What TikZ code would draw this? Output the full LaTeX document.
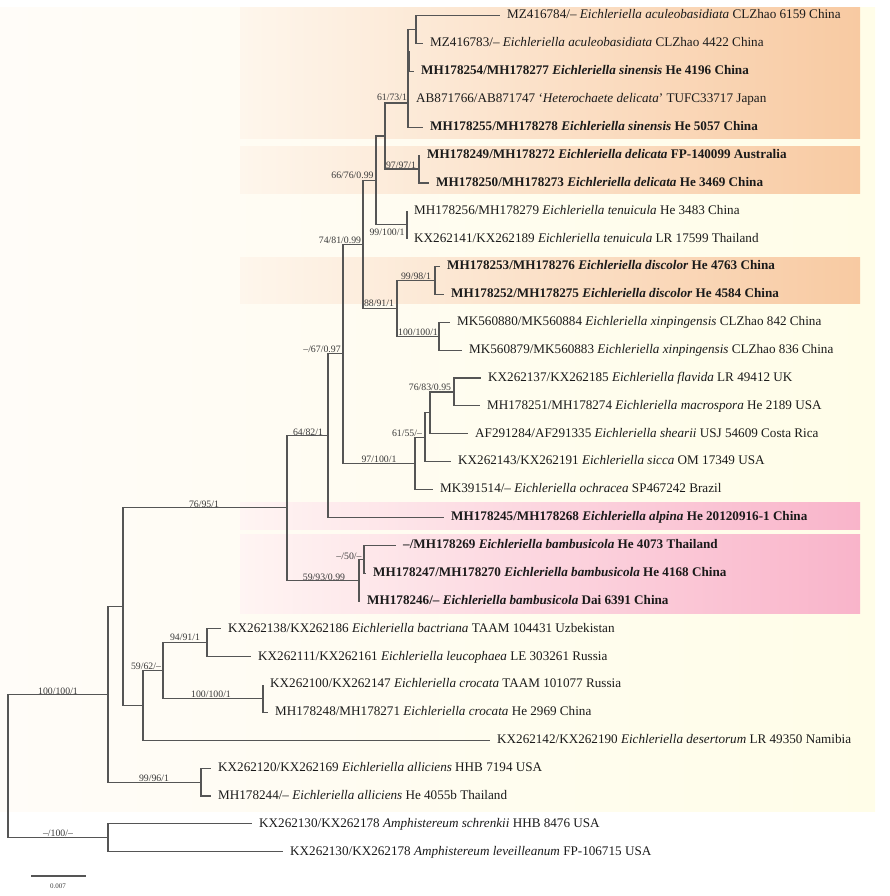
\documentclass[tikz,border=0pt]{standalone}
\usepackage{fontspec}
\setmainfont{Liberation Serif}
\definecolor{creamL}{HTML}{FFFCF8}
\definecolor{creamR}{HTML}{FFFDE8}
\definecolor{orL}{HTML}{FEF6EC}
\definecolor{orR}{HTML}{F8CAA2}
\definecolor{pkL}{HTML}{FFF5F3}
\definecolor{pkR}{HTML}{F9B4CA}
\definecolor{brc}{HTML}{555555}
\definecolor{txc}{HTML}{1A1A1A}
\definecolor{lbc}{HTML}{3A3A3A}
\begin{document}
\begin{tikzpicture}[x=1pt,y=-1pt,
  br/.style={draw=brc, line width=1.1pt},
  tx/.style={anchor=west, inner xsep=7pt, inner ysep=0pt, text=txc,
     font=\fontsize{13.15}{15}\selectfont, text height=0.66em, text depth=0pt},
  txb/.style={tx, font=\fontsize{13.15}{15}\selectfont\bfseries},
  supl/.style={inner sep=0pt, text=lbc, font=\fontsize{9.8}{10}\selectfont,
     text height=0.68em, text depth=0pt}]
\useasboundingbox (0,0) rectangle (890,896);
% backgrounds
\fill[left color=creamL, right color=creamR] (0,8) rectangle (875,811);
\fill[left color=orL, right color=orR] (240,8) rectangle (860,139);
\fill[left color=orL, right color=orR] (240,147) rectangle (860,193);
\fill[left color=orL, right color=orR] (240,257) rectangle (860,303);
\fill[left color=pkL, right color=pkR] (240,502) rectangle (860,529);
\fill[left color=pkL, right color=pkR] (240,534) rectangle (860,613);
% internal nodes
\coordinate (root) at (8,766);
\coordinate (A) at (108,694.4);
\coordinate (O2) at (108,837.9);
\coordinate (B) at (123,606.7);
\coordinate (AL) at (201,782.1);
\coordinate (C) at (287,507.9);
\coordinate (D) at (143,705.5);
\coordinate (H) at (328,435.6);
\coordinate (S) at (359,580.1);
\coordinate (I) at (343,353.9);
\coordinate (J) at (363,244.4);
\coordinate (O) at (415,463.4);
\coordinate (L) at (376,180.4);
\coordinate (K) at (397,308.4);
\coordinate (MN) at (385,136);
\coordinate (TN) at (407,224.8);
\coordinate (M) at (408,103);
\coordinate (M2) at (416,29.7);
\coordinate (M3) at (409.5,52);
\coordinate (N) at (419,169);
\coordinate (DS) at (435,280.5);
\coordinate (X) at (439,336.2);
\coordinate (P) at (425,437.2);
\coordinate (Q) at (430,412.8);
\coordinate (R) at (454,392);
\coordinate (T) at (364,559.2);
\coordinate (E) at (163,670.6);
\coordinate (F) at (207,642.8);
\coordinate (G) at (263,698.5);
% taxa
\node[tx]  (t1)  at (500,15.7)  {MZ416784/-- \textit{Eichleriella aculeobasidiata} CLZhao 6159 China};
\node[tx]  (t2)  at (423,43.6)  {MZ416783/-- \textit{Eichleriella aculeobasidiata} CLZhao 4422 China};
\node[txb] (t3)  at (414,71.4)  {MH178254/MH178277 \textit{Eichleriella sinensis} He 4196 China};
\node[tx]  (t4)  at (409,99.3)  {AB871766/AB871747 ‘\textit{Heterochaete delicata}’ TUFC33717 Japan};
\node[txb] (t5)  at (423,127.2) {MH178255/MH178278 \textit{Eichleriella sinensis} He 5057 China};
\node[txb] (t6)  at (420,155.1) {MH178249/MH178272 \textit{Eichleriella delicata} FP-140099 Australia};
\node[txb] (t7)  at (429,183.0) {MH178250/MH178273 \textit{Eichleriella delicata} He 3469 China};
\node[tx]  (t8)  at (407,210.8) {MH178256/MH178279 \textit{Eichleriella tenuicula} He 3483 China};
\node[tx]  (t9)  at (407,238.7) {KX262141/KX262189 \textit{Eichleriella tenuicula} LR 17599 Thailand};
\node[txb] (t10) at (440,266.5) {MH178253/MH178276 \textit{Eichleriella discolor} He 4763 China};
\node[txb] (t11) at (444,294.4) {MH178252/MH178275 \textit{Eichleriella discolor} He 4584 China};
\node[tx]  (t12) at (450,322.3) {MK560880/MK560884 \textit{Eichleriella xinpingensis} CLZhao 842 China};
\node[tx]  (t13) at (462,350.1) {MK560879/MK560883 \textit{Eichleriella xinpingensis} CLZhao 836 China};
\node[tx]  (t14) at (481,378.0) {KX262137/KX262185 \textit{Eichleriella flavida} LR 49412 UK};
\node[tx]  (t15) at (480,405.9) {MH178251/MH178274 \textit{Eichleriella macrospora} He 2189 USA};
\node[tx]  (t16) at (468,433.7) {AF291284/AF291335 \textit{Eichleriella shearii} USJ 54609 Costa Rica};
\node[tx]  (t17) at (451,461.6) {KX262143/KX262191 \textit{Eichleriella sicca} OM 17349 USA};
\node[tx]  (t18) at (433,489.5) {MK391514/-- \textit{Eichleriella ochracea} SP467242 Brazil};
\node[txb] (t19) at (444,517.4) {MH178245/MH178268 \textit{Eichleriella alpina} He 20120916-1 China};
\node[txb] (t20) at (396,545.2) {--/MH178269 \textit{Eichleriella bambusicola} He 4073 Thailand};
\node[txb] (t21) at (366,573.1) {MH178247/MH178270 \textit{Eichleriella bambusicola} He 4168 China};
\node[txb] (t22) at (360,601.0) {MH178246/-- \textit{Eichleriella bambusicola} Dai 6391 China};
\node[tx]  (t23) at (221,628.8) {KX262138/KX262186 \textit{Eichleriella bactriana} TAAM 104431 Uzbekistan};
\node[tx]  (t24) at (251,656.7) {KX262111/KX262161 \textit{Eichleriella leucophaea} LE 303261 Russia};
\node[tx]  (t25) at (263,684.6) {KX262100/KX262147 \textit{Eichleriella crocata} TAAM 101077 Russia};
\node[tx]  (t26) at (268,712.4) {MH178248/MH178271 \textit{Eichleriella crocata} He 2969 China};
\node[tx]  (t27) at (490,740.3) {KX262142/KX262190 \textit{Eichleriella desertorum} LR 49350 Namibia};
\node[tx]  (t28) at (211,768.2) {KX262120/KX262169 \textit{Eichleriella alliciens} HHB 7194 USA};
\node[tx]  (t29) at (211,796.0) {MH178244/-- \textit{Eichleriella alliciens} He 4055b Thailand};
\node[tx]  (t30) at (252,823.9) {KX262130/KX262178 \textit{Amphistereum schrenkii} HHB 8476 USA};
\node[tx]  (t31) at (283,851.8) {KX262130/KX262178 \textit{Amphistereum leveilleanum} FP-106715 USA};
% branches
\foreach \p/\c in {root/A, root/O2, A/B, A/AL, B/C, B/D, C/H, C/S, H/I, H/t19,
  I/J, I/O, J/L, J/K, L/MN, L/TN, MN/M, MN/N, M/M2, M/M3, M/t4, M/t5,
  M2/t1, M2/t2, M3/t3, N/t6, N/t7, TN/t8, TN/t9, K/DS, K/X, DS/t10, DS/t11,
  X/t12, X/t13, O/P, O/t18, P/Q, P/t17, Q/R, Q/t16, R/t14, R/t15,
  S/T, S/t22, T/t20, T/t21, D/E, D/t27, E/F, E/G, F/t23, F/t24, G/t25, G/t26,
  AL/t28, AL/t29, O2/t30, O2/t31}
  \draw[br] (\p) |- (\c);
% support values
\node[supl] (l1)  at (392,97)  {61/73/1};
\node[supl] (l2)  at (401,165) {97/97/1};
\node[supl] (l3)  at (352.5,175) {66/76/0.99};
\node[supl] (l4)  at (387,232) {99/100/1};
\node[supl] (l5)  at (340,240) {74/81/0.99};
\node[supl] (l6)  at (416,276) {99/98/1};
\node[supl] (l7)  at (379,303.5) {88/91/1};
\node[supl] (l8)  at (418,332) {100/100/1};
\node[supl] (l9)  at (322,349.5) {--/67/0.97};
\node[supl] (l10) at (430,387.5) {76/83/0.95};
\node[supl] (l11) at (407,433) {61/55/--};
\node[supl] (l12) at (308,432) {64/82/1};
\node[supl] (l13) at (379,459) {97/100/1};
\node[supl] (l14) at (204,504) {76/95/1};
\node[supl] (l15) at (349,556) {--/50/--};
\node[supl] (l16) at (324,577) {59/93/0.99};
\node[supl] (l17) at (185,637) {94/91/1};
\node[supl] (l18) at (146,666) {59/62/--};
\node[supl] (l19) at (211,694) {100/100/1};
\node[supl] (l20) at (58,691)  {100/100/1};
\node[supl] (l21) at (154,778) {99/96/1};
\node[supl] (l22) at (58,833)  {--/100/--};
% scale bar
\coordinate (s1) at (31,876);
\coordinate (s2) at (86,876);
\draw[br] (s1) -- (s2);
\node[inner sep=0pt, text=lbc, font=\fontsize{7}{8}\selectfont] (sl) at (58,886) {0.007};
\end{tikzpicture}
\end{document}
